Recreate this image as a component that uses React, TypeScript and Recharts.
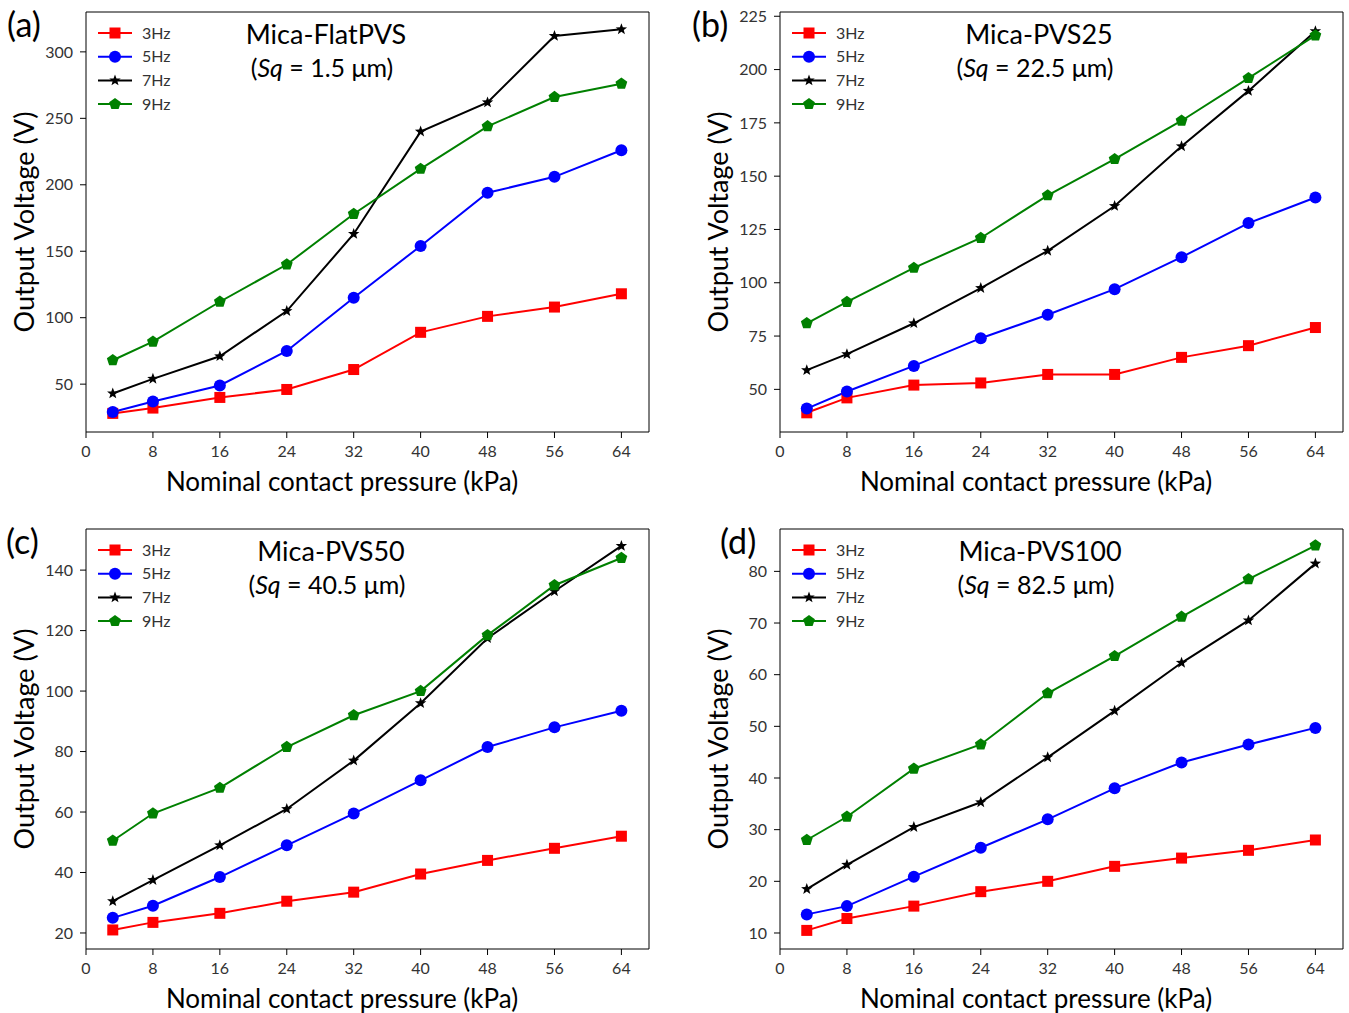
import React from 'react';
import { LineChart, Line, XAxis, YAxis, ReferenceLine } from 'recharts';

// nominal contact pressure (kPa)
const pressure = [3.2, 8, 16, 24, 32, 40, 48, 56, 64];
const xTicks = [0, 8, 16, 24, 32, 40, 48, 56, 64];
const freqNames = ['3Hz', '5Hz', '7Hz', '9Hz'];

// (a) Mica-FlatPVS
const flat3 = [28, 32, 40, 46, 61, 89, 101, 108, 118];
const flat5 = [29, 37, 49, 75, 115, 154, 194, 206, 226];
const flat7 = [43, 54, 71, 105, 163, 240, 262, 312, 317];
const flat9 = [68, 82, 112, 140, 178, 212, 244, 266, 276];
const flatTicks = [50, 100, 150, 200, 250, 300];

// (b) Mica-PVS25
const pvs25_3 = [39, 46, 52, 53, 57, 57, 65, 70.5, 79];
const pvs25_5 = [41, 49, 61, 74, 85, 97, 112, 128, 140];
const pvs25_7 = [59, 66.5, 81, 97.5, 115, 136, 164, 190, 218];
const pvs25_9 = [81, 91, 107, 121, 141, 158, 176, 196, 216];
const pvs25Ticks = [50, 75, 100, 125, 150, 175, 200, 225];

// (c) Mica-PVS50
const pvs50_3 = [21, 23.5, 26.5, 30.5, 33.5, 39.5, 44, 48, 52];
const pvs50_5 = [25, 29, 38.5, 49, 59.5, 70.5, 81.5, 88, 93.5];
const pvs50_7 = [30.5, 37.5, 49, 61, 77, 96, 117.5, 133, 148];
const pvs50_9 = [50.5, 59.5, 68, 81.5, 92, 100, 118.5, 135, 144];
const pvs50Ticks = [20, 40, 60, 80, 100, 120, 140];

// (d) Mica-PVS100
const pvs100_3 = [10.5, 12.8, 15.2, 18, 20, 22.9, 24.5, 26, 28];
const pvs100_5 = [13.6, 15.2, 20.9, 26.5, 32, 38, 43, 46.5, 49.7];
const pvs100_7 = [18.5, 23.2, 30.5, 35.3, 44, 53, 62.3, 70.5, 81.5];
const pvs100_9 = [28, 32.5, 41.8, 46.5, 56.4, 63.6, 71.2, 78.5, 85];
const pvs100Ticks = [10, 20, 30, 40, 50, 60, 70, 80];

const colors = ['#ff0000', '#0000ff', '#000000', '#008000'];
const shapes = ['square', 'circle', 'star', 'pentagon'];
const keys = ['f3', 'f5', 'f7', 'f9'];

const FONT = 'Lato, "Open Sans", sans-serif';

const polyPoints = (cx: number, cy: number, n: number, rOut: number, rIn?: number) => {
  const pts: string[] = [];
  const count = rIn ? n * 2 : n;
  for (let i = 0; i < count; i++) {
    const r = rIn && i % 2 === 1 ? rIn : rOut;
    const a = -Math.PI / 2 + (i * Math.PI * 2) / count;
    pts.push(`${cx + r * Math.cos(a)},${cy + r * Math.sin(a)}`);
  }
  return pts.join(' ');
};

const Marker = ({ shape, cx, cy, color }: { shape: string; cx: number; cy: number; color: string }) => {
  if (shape === 'square') return <rect x={cx - 5.5} y={cy - 5.5} width={11} height={11} fill={color} />;
  if (shape === 'circle') return <circle cx={cx} cy={cy} r={6} fill={color} />;
  if (shape === 'star') return <polygon points={polyPoints(cx, cy, 5, 6, 2.5)} fill={color} />;
  return <polygon points={polyPoints(cx, cy, 5, 6.2)} fill={color} />;
};

const makeDot = (i: number) => (props: any) => (
  <Marker key={`${keys[i]}-${props.index}`} shape={shapes[i]} cx={props.cx} cy={props.cy} color={colors[i]} />
);

type PanelProps = {
  left: number;
  top: number;
  letter: string;
  letterX: number;
  title: string;
  sq: string;
  titleX: number;
  series: number[][];
  yTicks: number[];
  yDomain: [number, number];
};

const W = 674;
const H = 500;
const X_MAX = 67.3;

const Panel = ({ left, top, letter, letterX, title, sq, titleX, series, yTicks, yDomain }: PanelProps) => {
  const data = pressure.map((p, i) => ({
    p,
    f3: series[0][i],
    f5: series[1][i],
    f7: series[2][i],
    f9: series[3][i],
  }));
  return (
    <div style={{ position: 'absolute', left, top, width: W, height: H }}>
      <LineChart width={W} height={H} data={data} margin={{ top: 12, right: 25, left: 0, bottom: 0 }}>
        <XAxis
          dataKey="p"
          type="number"
          domain={[0, X_MAX]}
          ticks={xTicks}
          allowDataOverflow
          height={68}
          tickSize={6}
          tickMargin={8}
          axisLine={{ stroke: '#000' }}
          tickLine={{ stroke: '#000' }}
          tick={{ fill: '#333', fontSize: 16, fontFamily: FONT }}
        />
        <YAxis
          type="number"
          domain={yDomain}
          ticks={yTicks}
          allowDataOverflow
          width={86}
          tickSize={6}
          tickMargin={7}
          axisLine={{ stroke: '#000' }}
          tickLine={{ stroke: '#000' }}
          tick={{ fill: '#333', fontSize: 16, fontFamily: FONT }}
        />
        {/* top and right frame */}
        <ReferenceLine y={yDomain[1]} stroke="#000" ifOverflow="visible" />
        <ReferenceLine x={X_MAX} stroke="#000" ifOverflow="visible" />
        {keys.map((k, i) => (
          <Line
            key={k}
            dataKey={k}
            type="linear"
            stroke={colors[i]}
            strokeWidth={2}
            dot={makeDot(i)}
            activeDot={false}
            isAnimationActive={false}
          />
        ))}
      </LineChart>

      {/* legend */}
      <svg style={{ position: 'absolute', left: 0, top: 0 }} width={200} height={120}>
        {freqNames.map((n, i) => {
          const y = 33 + i * 23.7;
          return (
            <g key={n}>
              <line x1={98} x2={132} y1={y} y2={y} stroke={colors[i]} strokeWidth={2} />
              <Marker shape={shapes[i]} cx={115} cy={y} color={colors[i]} />
              <text x={142} y={y + 5.5} fontSize={16} fontFamily={FONT} fill="#333">{n}</text>
            </g>
          );
        })}
      </svg>

      <div style={{ position: 'absolute', left: letterX, top: 3, fontSize: 34, fontFamily: FONT, color: '#000' }}>{letter}</div>

      <div style={{ position: 'absolute', left: titleX - 150, width: 300, top: 17, textAlign: 'center', fontSize: 27, fontFamily: FONT, color: '#000' }}>{title}</div>
      <div style={{ position: 'absolute', left: titleX - 154, width: 300, top: 52, textAlign: 'center', fontSize: 25, fontFamily: FONT, color: '#000' }}>
        (<i>Sq</i> = {sq} μm)
      </div>

      <div style={{ position: 'absolute', left: 92, width: 500, top: 465, textAlign: 'center', fontSize: 26, fontFamily: FONT, color: '#000' }}>
        Nominal contact pressure (kPa)
      </div>
      <div
        style={{
          position: 'absolute',
          left: 24 - 150,
          top: 222 - 16,
          width: 300,
          height: 32,
          lineHeight: '32px',
          textAlign: 'center',
          transform: 'rotate(-90deg)',
          fontSize: 27,
          fontFamily: FONT,
          color: '#000',
        }}
      >
        Output Voltage (V)
      </div>
    </div>
  );
};

export default function App() {
  return (
    <div style={{ position: 'absolute', left: 0, top: 0, width: 1349, height: 1013, background: '#fff', overflow: 'hidden' }}>
      <Panel left={0} top={0} letter="(a)" letterX={7} title="Mica-FlatPVS" sq="1.5" titleX={326} series={[flat3, flat5, flat7, flat9]} yTicks={flatTicks} yDomain={[14, 330]} />
      <Panel left={694} top={0} letter="(b)" letterX={-2} title="Mica-PVS25" sq="22.5" titleX={345} series={[pvs25_3, pvs25_5, pvs25_7, pvs25_9]} yTicks={pvs25Ticks} yDomain={[30, 227]} />
      <Panel left={0} top={517} letter="(c)" letterX={6} title="Mica-PVS50" sq="40.5" titleX={331} series={[pvs50_3, pvs50_5, pvs50_7, pvs50_9]} yTicks={pvs50Ticks} yDomain={[14.7, 153.6]} />
      <Panel left={694} top={517} letter="(d)" letterX={26} title="Mica-PVS100" sq="82.5" titleX={346} series={[pvs100_3, pvs100_5, pvs100_7, pvs100_9]} yTicks={pvs100Ticks} yDomain={[6.9, 88.2]} />
    </div>
  );
}
